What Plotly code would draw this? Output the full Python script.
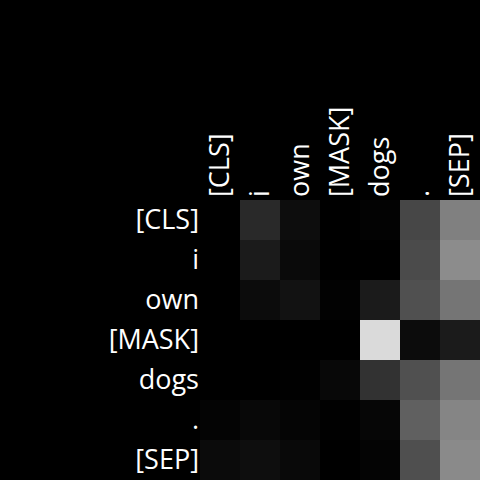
import plotly.graph_objects as go

tokens = ["[CLS]", "i", "own", "[MASK]", "dogs", ".", "[SEP]"]

# attention weights (rows = query token, cols = key token), read as gray levels / 255
row_cls = [0, 41, 13, 0, 3, 71, 128]
row_i = [0, 27, 10, 0, 0, 75, 140]
row_own = [0, 12, 18, 2, 27, 80, 117]
row_mask = [0, 0, 0, 0, 218, 12, 27]
row_dogs = [0, 0, 1, 8, 50, 80, 117]
row_dot = [4, 8, 5, 1, 6, 96, 133]
row_sep = [11, 14, 9, 0, 4, 79, 138]

rows = [row_cls, row_i, row_own, row_mask, row_dogs, row_dot, row_sep]
z = [[v / 255 for v in r] for r in rows]

fig = go.Figure(go.Heatmap(
    z=z, x=tokens, y=tokens,
    colorscale=[[0, "black"], [1, "white"]],
    zmin=0, zmax=1, showscale=False, hoverinfo="skip",
))
fig.update_layout(
    width=480, height=480,
    margin=dict(l=200, t=200, r=0, b=0),
    paper_bgcolor="black", plot_bgcolor="black",
    font=dict(family="Open Sans", size=27, color="white"),
)
fig.update_xaxes(side="top", tickangle=-90, showgrid=False, zeroline=False,
                 ticks="", ticklabelstandoff=2, tickfont=dict(size=27, color="white"))
fig.update_yaxes(autorange="reversed", showgrid=False, zeroline=False,
                 ticks="", ticklabelstandoff=0, tickfont=dict(size=27, color="white"))
fig.write_html(
    "out.html",
    config={"displayModeBar": False},
    post_script="document.body.style.margin='0';document.body.style.background='black';",
)
